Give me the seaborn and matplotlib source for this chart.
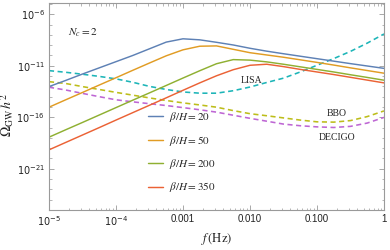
import numpy as np
import pandas as pd
import matplotlib
matplotlib.use('Agg')
import matplotlib.pyplot as plt
import matplotlib.ticker as mticker
import seaborn as sns

# log10 of frequency (Hz), shared by every curve
log_f = [-5, -4.75, -4.5, -4.25, -4, -3.75, -3.5, -3.25, -3, -2.75, -2.5,
         -2.25, -2, -1.75, -1.5, -1.25, -1, -0.75, -0.5, -0.25, 0]

# log10 of Omega_GW h^2
beta_20 = [-13.02, -12.42, -11.8, -11.2, -10.6, -10.0, -9.35, -8.7, -8.38, -8.48, -8.72,
           -8.98, -9.3, -9.58, -9.83, -10.07, -10.31, -10.55, -10.79, -11.02, -11.25]
beta_50 = [-15.02, -14.3, -13.59, -12.87, -12.16, -11.44, -10.73, -10.03, -9.45, -9.1, -9.07,
           -9.4, -9.73, -9.95, -10.17, -10.42, -10.67, -10.93, -11.2, -11.46, -11.72]
beta_200 = [-17.93, -17.21, -16.5, -15.78, -15.06, -14.34, -13.63, -12.91, -12.19, -11.48, -10.8,
            -10.4, -10.45, -10.62, -10.85, -11.1, -11.35, -11.6, -11.87, -12.13, -12.4]
beta_350 = [-19.16, -18.44, -17.72, -17.0, -16.27, -15.55, -14.83, -14.11, -13.38, -12.66, -11.97,
            -11.38, -10.95, -10.85, -11.08, -11.35, -11.6, -11.85, -12.12, -12.39, -12.66]
lisa = [-11.47, -11.63, -11.82, -12.03, -12.27, -12.6, -13.0, -13.3, -13.54, -13.66, -13.66,
        -13.42, -13.06, -12.62, -12.2, -11.6, -10.95, -10.3, -9.6, -8.8, -7.91]
bbo = [-12.54, -12.72, -13.02, -13.3, -13.58, -13.85, -14.12, -14.37, -14.6, -14.8, -15.02,
       -15.35, -15.65, -15.85, -16.06, -16.27, -16.44, -16.47, -16.32, -15.93, -15.38]
decigo = [-13.08, -13.35, -13.68, -14.0, -14.3, -14.5, -14.68, -14.86, -15.06, -15.27, -15.5,
          -15.8, -16.1, -16.38, -16.66, -16.82, -16.93, -16.99, -16.88, -16.56, -16.01]

signal_names = [r'$\beta/H = 20$', r'$\beta/H = 50$', r'$\beta/H = 200$', r'$\beta/H = 350$']
signal_colors = ['#5E81B5', '#E19C24', '#8FB032', '#EB6235']
detector_names = ['LISA', 'BBO', 'DECIGO']
detector_colors = ['#1DB5B8', '#BDBD1A', '#BE66D4']

x_ticks = [1e-5, 1e-4, 1e-3, 1e-2, 1e-1, 1]
x_ticklabels = [r'$10^{-5}$', r'$10^{-4}$', '0.001', '0.010', '0.100', '1']
y_ticks = [1e-21, 1e-16, 1e-11, 1e-6]
y_ticklabels = [r'$10^{-21}$', r'$10^{-16}$', r'$10^{-11}$', r'$10^{-6}$']

sns.set_style('ticks')
plt.rcParams['mathtext.fontset'] = 'stix'
plt.rcParams['font.family'] = ['Liberation Sans', 'DejaVu Sans']

f = 10.0 ** np.array(log_f)
signals = pd.DataFrame({'f': np.tile(f, 4),
                        'omega': 10.0 ** np.concatenate([beta_20, beta_50, beta_200, beta_350]),
                        'case': np.repeat(signal_names, len(log_f))})
detectors = pd.DataFrame({'f': np.tile(f, 3),
                          'omega': 10.0 ** np.concatenate([lisa, bbo, decigo]),
                          'det': np.repeat(detector_names, len(log_f))})

fig = plt.figure(figsize=(3.9, 2.5), dpi=100)
ax = fig.add_axes([0.1256, 0.16, 0.859, 0.829])
ax.set_xscale('log')
ax.set_yscale('log')

sns.lineplot(data=detectors, x='f', y='omega', hue='det', palette=detector_colors,
             sort=False, linewidth=1.15, ax=ax, legend=False)
for line in ax.get_lines():
    line.set_dashes([3.2, 2.2])
sns.lineplot(data=signals, x='f', y='omega', hue='case', palette=signal_colors,
             sort=False, linewidth=1.05, ax=ax)

ax.set_xlim(1e-5, 1)
ax.set_ylim(1e-25, 10 ** -4.88)

ax.xaxis.set_major_locator(mticker.FixedLocator(x_ticks))
ax.xaxis.set_major_formatter(mticker.FixedFormatter(x_ticklabels))
ax.xaxis.set_minor_locator(mticker.LogLocator(base=10, subs=np.arange(2, 10), numticks=20))
ax.xaxis.set_minor_formatter(mticker.NullFormatter())
ax.yaxis.set_major_locator(mticker.FixedLocator(y_ticks))
ax.yaxis.set_major_formatter(mticker.FixedFormatter(y_ticklabels))
ax.yaxis.set_minor_locator(mticker.FixedLocator([10.0 ** k for k in range(-24, -4)]))
ax.yaxis.set_minor_formatter(mticker.NullFormatter())

frame_color = '#9a9a9a'
for sp in ax.spines.values():
    sp.set_color(frame_color)
    sp.set_linewidth(0.8)
ax.tick_params(which='both', direction='in', top=True, right=True, color=frame_color,
               labelsize=7, labelcolor='#222222', pad=3)
ax.tick_params(which='major', length=3.5, width=0.6)
ax.tick_params(which='minor', length=1.8, width=0.5)
for lab in ax.get_xticklabels() + ax.get_yticklabels():
    lab.set_math_fontfamily('dejavusans')

ax.set_xlabel(r'$f\,(\mathrm{Hz})$', fontsize=9, labelpad=2, color='#222222')
ax.set_ylabel(r'$\Omega_{\mathrm{GW}}\,h^2$', fontsize=10, color='#222222')
ax.yaxis.set_label_coords(-0.098, 0.46)

ax.text(10 ** -4.72, 10 ** -7.82, r'$N_c = 2$', fontsize=8, ha='left', va='center', color='#222222')
ax.text(10 ** -1.975, 10 ** -12.44, 'LISA', fontsize=7, family='Liberation Serif', ha='center', va='center')
ax.text(10 ** -0.706, 10 ** -15.6, 'BBO', fontsize=7, family='Liberation Serif', ha='center', va='center')
ax.text(10 ** -0.706, 10 ** -17.93, 'DECIGO', fontsize=7, family='Liberation Serif', ha='center', va='center')

handles, labels = ax.get_legend_handles_labels()
ax.legend(handles, labels, loc='lower left', bbox_to_anchor=(0.295, 0.075), frameon=False,
          fontsize=8, handlelength=1.4, handletextpad=0.5, labelspacing=0.85,
          borderpad=0, borderaxespad=0)

fig.savefig('out.png', dpi=100)
